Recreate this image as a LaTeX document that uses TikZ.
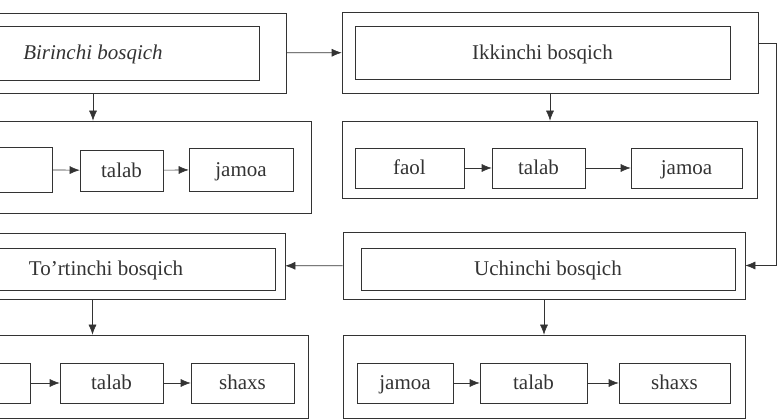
\documentclass[tikz,border=0pt]{standalone}
\usepackage{fontspec}
\setmainfont{Liberation Serif}
\usetikzlibrary{arrows.meta,calc}

\begin{document}
\begin{tikzpicture}[x=1pt, y=-1pt, line width=0.6pt, draw=black!80, text=black!80,
    frame/.style={draw, inner sep=0pt},
    word/.style={frame, font=\fontsize{21}{25}\selectfont, text height=18pt, text depth=4pt},
    link/.style={-{Latex[length=10pt,width=8pt]}}]
  \useasboundingbox (0,0) rectangle (777,419);
  \clip (0,0) rectangle (777,419);
  % first stage
  \node[frame, minimum width=386pt, minimum height=80pt] (oA) at (93,53) {};
  \node[word, minimum width=332pt, minimum height=54pt, font=\fontsize{21}{25}\selectfont\itshape] (iA) at (93,53) {Birinchi bosqich};
  % second stage
  \node[frame, minimum width=416pt, minimum height=81pt] (oB) at (550,52.5) {};
  \node[word, minimum width=375pt, minimum height=53pt] (iB) at (542.5,52.5) {Ikkinchi bosqich};
  \draw[link] (oA) -- (oB);
  % chains under first and second stage
  \node[frame, minimum width=411pt, minimum height=92pt] (oC) at (105.5,167) {};
  \node[frame, minimum width=112pt, minimum height=45pt] (c0) at (-4,169.5) {};
  \node[word, minimum width=83pt, minimum height=41pt] (c1) at (121.5,170.5) {talab};
  \node[word, minimum width=104pt, minimum height=43pt] (c2) at (241,169.5) {jamoa};
  \draw[link] (c0) -- (c1);
  \draw[link] (c1) -- (c2);
  \draw[link] (oA.south) -- (oA.south |- oC.north);
  \node[frame, minimum width=415pt, minimum height=77pt] (oD) at (549.5,159.5) {};
  \node[word, minimum width=109pt, minimum height=40pt] (d1) at (409.5,168) {faol};
  \node[word, minimum width=93pt, minimum height=40pt] (d2) at (538.5,168) {talab};
  \node[word, minimum width=111pt, minimum height=40pt] (d3) at (686.5,168) {jamoa};
  \draw[link] (d1) -- (d2);
  \draw[link] (d2) -- (d3);
  \draw[link] (oB.south) -- (oB.south |- oD.north);
  % third and fourth stage
  \node[frame, minimum width=402pt, minimum height=67pt] (oE) at (544,265.5) {};
  \node[word, minimum width=374pt, minimum height=42pt] (iE) at (548,269) {Uchinchi bosqich};
  \node[frame, minimum width=385pt, minimum height=66pt] (oF) at (92.5,266) {};
  \node[word, minimum width=338pt, minimum height=42pt] (iF) at (106,269) {To'rtinchi bosqich};
  \draw[link] (oE) -- (oF);
  \coordinate (r1) at (776,43);
  \coordinate (r2) at (776,265.5);
  \draw[link] (oB.east |- r1) -- (r1) -- (r2) -- (oE.east |- r2);
  % chains under third and fourth stage
  \node[frame, minimum width=408pt, minimum height=83pt] (oG) at (104,376.5) {};
  \node[frame, minimum width=110pt, minimum height=40pt] (g0) at (-25,383) {};
  \node[word, minimum width=103pt, minimum height=40pt] (g1) at (111.5,383) {talab};
  \node[word, minimum width=103pt, minimum height=40pt] (g2) at (242.5,383) {shaxs};
  \draw[link] (g0) -- (g1);
  \draw[link] (g1) -- (g2);
  \draw[link] (oF.south) -- (oF.south |- oG.north);
  \node[frame, minimum width=402pt, minimum height=83pt] (oH) at (544,376.5) {};
  \node[word, minimum width=96pt, minimum height=40pt] (h1) at (405,383) {jamoa};
  \node[word, minimum width=107pt, minimum height=40pt] (h2) at (533.5,383) {talab};
  \node[word, minimum width=111pt, minimum height=40pt] (h3) at (674.5,383) {shaxs};
  \draw[link] (h1) -- (h2);
  \draw[link] (h2) -- (h3);
  \draw[link] (oE.south) -- (oE.south |- oH.north);
\end{tikzpicture}
\end{document}
